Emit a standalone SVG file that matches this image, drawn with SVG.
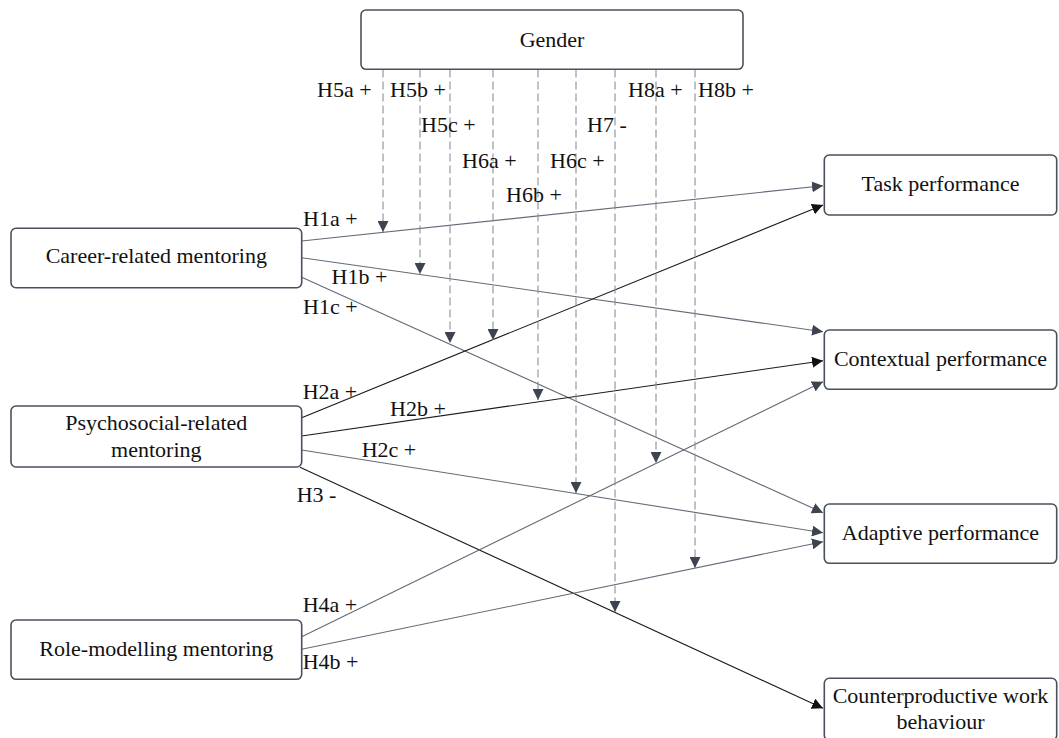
<svg xmlns="http://www.w3.org/2000/svg" width="1059" height="738" viewBox="0 0 1059 738">
<defs>
<style>
.box{fill:#ffffff;stroke:#4b515c;stroke-width:1.6}
.t{font-family:Liberation Serif, Times New Roman, DejaVu Serif, Noto Serif, serif;font-size:22px;fill:#111111}
.c{text-anchor:middle}
.g{stroke:#646b78;stroke-width:1.1;fill:none}
.k{stroke:#1a1a1a;stroke-width:1.1;fill:none}
.d{stroke:#8a8f98;stroke-width:1.1;fill:none;stroke-dasharray:8 4}
</style>
<marker id="ag" viewBox="0 0 10 10" refX="10" refY="5" markerWidth="11" markerHeight="11" markerUnits="userSpaceOnUse" orient="auto"><path d="M0,0 L10,5 L0,10 z" fill="#3d4450"/></marker>
<marker id="ak" viewBox="0 0 10 10" refX="10" refY="5" markerWidth="11" markerHeight="11" markerUnits="userSpaceOnUse" orient="auto"><path d="M0,0 L10,5 L0,10 z" fill="#111111"/></marker>
<marker id="ad" viewBox="0 0 10 10" refX="10" refY="5" markerWidth="11" markerHeight="11" markerUnits="userSpaceOnUse" orient="auto"><path d="M0,0 L10,5 L0,10 z" fill="#3d4450"/></marker>
</defs>
<rect width="1059" height="738" fill="#ffffff"/>

<g id="connectors">
<line class="g" x1="301.7" y1="241" x2="823" y2="185.7" marker-end="url(#ag)"/>
<line class="g" x1="301.7" y1="257.7" x2="823" y2="331.7" marker-end="url(#ag)"/>
<line class="g" x1="301.7" y1="277.3" x2="823" y2="512.7" marker-end="url(#ag)"/>
<line class="k" x1="301.7" y1="417.7" x2="823" y2="205" marker-end="url(#ak)"/>
<line class="k" x1="301.7" y1="436" x2="823" y2="360.7" marker-end="url(#ak)"/>
<line class="g" x1="301.7" y1="450" x2="823" y2="532.7" marker-end="url(#ag)"/>
<line class="k" x1="300" y1="467.3" x2="823" y2="708.3" marker-end="url(#ak)"/>
<line class="g" x1="300.7" y1="637.3" x2="823" y2="381.7" marker-end="url(#ag)"/>
<line class="g" x1="301.7" y1="649.3" x2="823" y2="541.7" marker-end="url(#ag)"/>

<line class="d" x1="383" y1="69.5" x2="383" y2="232" marker-end="url(#ad)"/>
<line class="d" x1="420" y1="69.5" x2="420" y2="274" marker-end="url(#ad)"/>
<line class="d" x1="450" y1="69.5" x2="450" y2="343" marker-end="url(#ad)"/>
<line class="d" x1="493" y1="69.5" x2="493" y2="340" marker-end="url(#ad)"/>
<line class="d" x1="538" y1="69.5" x2="538" y2="400" marker-end="url(#ad)"/>
<line class="d" x1="576" y1="69.5" x2="576" y2="493" marker-end="url(#ad)"/>
<line class="d" x1="615" y1="69.5" x2="615" y2="612" marker-end="url(#ad)"/>
<line class="d" x1="656" y1="69.5" x2="656" y2="463" marker-end="url(#ad)"/>
<line class="d" x1="695" y1="69.5" x2="695" y2="568" marker-end="url(#ad)"/>

<text class="t" x="303" y="225.5">H1a +</text>
<text class="t" x="331.5" y="283.5">H1b +</text>
<text class="t" x="303" y="313.5">H1c +</text>
<text class="t" x="302.7" y="399.3">H2a +</text>
<text class="t" x="390" y="415.7">H2b +</text>
<text class="t" x="361.7" y="457.3">H2c +</text>
<text class="t" x="296.7" y="501.7">H3 -</text>
<text class="t" x="302.7" y="612.3">H4a +</text>
<text class="t" x="302.7" y="669.3">H4b +</text>
<text class="t" x="317" y="96.7">H5a +</text>
<text class="t" x="390" y="96.7">H5b +</text>
<text class="t" x="628" y="96.7">H8a +</text>
<text class="t" x="698" y="96.7">H8b +</text>
<text class="t" x="421" y="131.7">H5c +</text>
<text class="t" x="587" y="131.7">H7 -</text>
<text class="t" x="462" y="168.3">H6a +</text>
<text class="t" x="550" y="168.3">H6c +</text>
<text class="t" x="506" y="201.7">H6b +</text>
</g>

<g id="gender">
<rect class="box" x="361" y="10" width="382" height="59.3" rx="5"/>
<text class="t c" x="552" y="46.5">Gender</text>
</g>
<g id="career">
<rect class="box" x="11" y="228.3" width="290.7" height="59.4" rx="5"/>
<text class="t c" x="156.3" y="263">Career-related mentoring</text>
</g>
<g id="psychosocial">
<rect class="box" x="11" y="406" width="290.7" height="61" rx="5"/>
<text class="t c" x="156.3" y="429.5">Psychosocial-related</text>
<text class="t c" x="156.3" y="456.5">mentoring</text>
</g>
<g id="rolemodelling">
<rect class="box" x="11" y="620" width="290.7" height="59.3" rx="5"/>
<text class="t c" x="156.3" y="656">Role-modelling mentoring</text>
</g>
<g id="task">
<rect class="box" x="824.3" y="155" width="232.4" height="60" rx="5"/>
<text class="t c" x="940.5" y="190.5">Task performance</text>
</g>
<g id="contextual">
<rect class="box" x="824.3" y="330" width="232.4" height="59.3" rx="5"/>
<text class="t c" x="940.5" y="365.5">Contextual performance</text>
</g>
<g id="adaptive">
<rect class="box" x="824.3" y="504" width="232.4" height="59.3" rx="5"/>
<text class="t c" x="940.5" y="539.5">Adaptive performance</text>
</g>
<g id="counterproductive">
<rect class="box" x="824.3" y="678.3" width="232.4" height="62" rx="5"/>
<text class="t c" x="940.5" y="703">Counterproductive work</text>
<text class="t c" x="940.5" y="729">behaviour</text>
</g>
</svg>
